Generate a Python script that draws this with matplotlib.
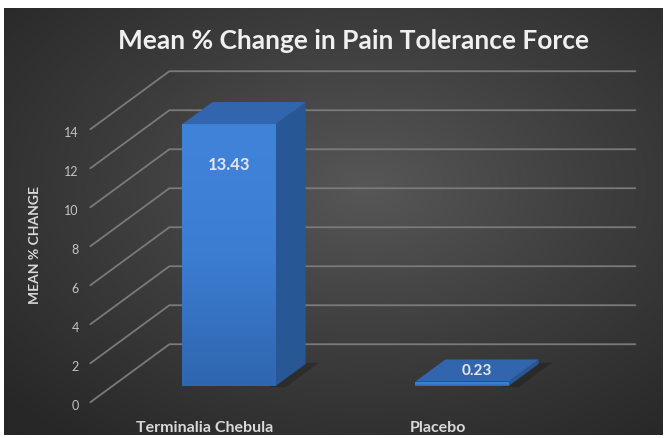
import numpy as np
import matplotlib.pyplot as plt
from matplotlib.patches import Polygon
from matplotlib.colors import LinearSegmentedColormap

plt.rcParams['font.family'] = ['Lato', 'DejaVu Sans']

# ---- data ----
categories = ["Terminalia Chebula", "Placebo"]
values = [13.43, 0.23]
value_labels = ["13.43", "0.23"]
y_ticks = [0, 2, 4, 6, 8, 10, 12, 14]
title = "Mean % Change in Pain Tolerance Force"
y_title = "MEAN % CHANGE"

W, H = 665, 439
fig = plt.figure(figsize=(W / 100, H / 100), dpi=100)
fig.patch.set_facecolor('white')

# ---- dark panel with radial gradient ----
bg = fig.add_axes([4 / W, 3 / H, 659 / W, 427 / H])
bg.set_axis_off()
gx, gy = np.meshgrid(np.linspace(0, 1, 400), np.linspace(0, 1, 300))
r = np.sqrt(((gx - 0.55) / 0.75) ** 2 + ((gy - 0.42) / 0.75) ** 2)
r = np.clip(r, 0, 1)
bg_cmap = LinearSegmentedColormap.from_list('bg', ['#575757', '#3d3d3d', '#272727'])
bg.imshow(r, cmap=bg_cmap, vmin=0, vmax=1, aspect='auto', extent=[0, 1, 0, 1],
          origin='upper', interpolation='bilinear')

# ---- oblique 3D frame ----
ax = fig.add_axes([0, 0, 1, 1])
ax.set_axis_off()
ax.patch.set_alpha(0)

DX, DY = 0.339, 2.974          # full floor depth expressed in (category, value) units
T0, T1 = 0.28, 0.66            # bar front / back planes as a fraction of floor depth
BAR_W = 0.4
XLIM = (-229 / 233, (W - 229) / 233)
YLIM = (-52 / 19.5, (H - 52) / 19.5)


def proj(x, v, t):
    return (x + (t - T0) * DX, v + (t - T0) * DY)


x_left, x_right = -0.5, len(categories) - 0.5
grid_col = '#7a7a7a'
for v in y_ticks:
    pts = [proj(x_left, v, 0), proj(x_left, v, 1), proj(x_right, v, 1)]
    ax.plot([p[0] for p in pts], [p[1] for p in pts], color=grid_col, lw=1.3,
            solid_capstyle='round', zorder=1)
    fx, fy = proj(x_left, v, 0)
    ax.text(fx - 0.05, fy - 0.12, f"{v}", ha='right', va='center', fontsize=9,
            color='#c4c4c4', zorder=2)

front_cmap = LinearSegmentedColormap.from_list('front', ['#2f66b0', '#3c7dd2', '#4084da'])

xs = np.arange(len(categories))
for x, v in zip(xs, values):
    # soft shadow on the floor, behind the right side of each bar
    sh = [proj(x + BAR_W / 2 - 0.02, 0, T0 - 0.02), proj(x + BAR_W / 2 + 0.05, 0, T0 - 0.02),
          proj(x + BAR_W / 2 + 0.05, 0, T1 + 0.02), proj(x + BAR_W / 2 - 0.02, 0, T1 + 0.02)]
    ax.add_patch(Polygon(sh, closed=True, facecolor='black', alpha=0.2, lw=0, zorder=2))

bars = ax.bar(xs, values, width=BAR_W, color='#3573c2', lw=0, zorder=4)
for rect, x, v in zip(bars, xs, values):
    im = ax.imshow(np.linspace(0, 1, 100).reshape(-1, 1), cmap=front_cmap, aspect='auto',
                   extent=[x - BAR_W / 2, x + BAR_W / 2, 0, v], origin='lower',
                   zorder=4.1, interpolation='bilinear')
    im.set_clip_path(rect)
    side = [proj(x + BAR_W / 2, 0, T0), proj(x + BAR_W / 2, 0, T1),
            proj(x + BAR_W / 2, v, T1), proj(x + BAR_W / 2, v, T0)]
    ax.add_patch(Polygon(side, closed=True, facecolor='#285795', lw=0, zorder=4))
    top = [proj(x - BAR_W / 2, v, T0), proj(x + BAR_W / 2, v, T0),
           proj(x + BAR_W / 2, v, T1), proj(x - BAR_W / 2, v, T1)]
    ax.add_patch(Polygon(top, closed=True, facecolor='#3166ae', lw=0, zorder=4.2))

# value labels
ax.text(xs[0], values[0] - 2.05, value_labels[0], ha='center', va='center',
        fontsize=12, fontweight='bold', color='#e6e6e6', zorder=6)
lx, ly = proj(xs[1], values[1], (T0 + T1) / 2)
ax.text(lx, ly, value_labels[1], ha='center', va='center',
        fontsize=11, fontweight='bold', color='#e6e6e6', zorder=6)

# category labels along the front edge of the floor
for x, c in zip(xs, categories):
    cx, cy = proj(x, 0, 0)
    ax.text(cx - 0.01, cy - 1.28, c, ha='center', va='center', fontsize=11.5,
            fontweight='bold', color='#d9d9d9', zorder=6)

ax.set_xlim(*XLIM)
ax.set_ylim(*YLIM)

fig.text(35 / W, 1 - 245 / H, y_title, rotation=90, ha='center', va='center',
         fontsize=10, fontweight='bold', color='#d9d9d9')
fig.text(354 / W, 1 - 41 / H, title, ha='center', va='center', fontsize=19,
         fontweight='bold', color='#f0f0f0')

fig.savefig('out.png', dpi=100, facecolor=fig.get_facecolor())
